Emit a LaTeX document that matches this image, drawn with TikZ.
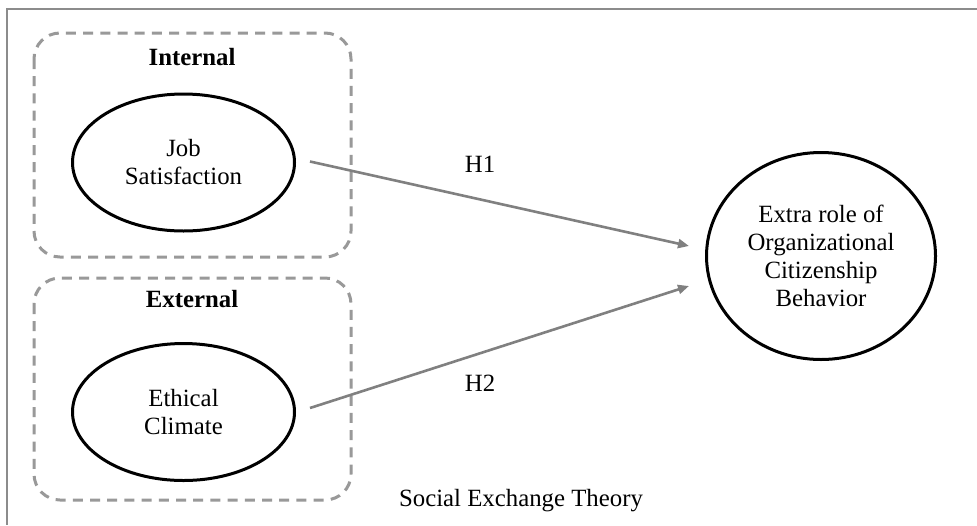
\documentclass[tikz,border=0pt]{standalone}
\usepackage{fontspec}
\setmainfont{Liberation Serif}
\usetikzlibrary{shapes.geometric,arrows.meta}
\begin{document}
\begin{tikzpicture}[x=0.5pt,y=-0.5pt,
  every node/.style={font=\fontsize{12.4pt}{14pt}\selectfont, align=center, inner sep=0pt},
  frameline/.style={draw=black!45, line width=1pt},
  groupbox/.style={draw=black!40, line width=1.5pt, dash pattern=on 5pt off 3.6pt, rounded corners=13pt},
  construct/.style={ellipse, draw=black, line width=1.5pt},
  hyp/.style={draw=black!50, line width=1.3pt, -{Triangle[length=5.5pt,width=4.5pt]}},
  grouptitle/.style={font=\fontsize{12.4pt}{14pt}\selectfont\bfseries}
]
\useasboundingbox (0,0) rectangle (977,525);
\fill[white] (0,0) rectangle (977,525);

% outer frame (top and left edges)
\draw[frameline] (977,9) -- (7,9) -- (7,525);

% group boxes
\draw[groupbox] (34,33) rectangle (351,257);
\draw[groupbox] (34,278) rectangle (351,500);
\node[grouptitle] (tin) at (192,57) {Internal};
\node[grouptitle] (tex) at (192,299) {External};

% constructs
\node[construct, minimum width=111pt, minimum height=68.5pt] (js) at (183.5,162.5) {Job\\Satisfaction};
\node[construct, minimum width=111pt, minimum height=68.5pt] (ec) at (183.5,412) {Ethical\\Climate};
\node[construct, minimum width=114.5pt, minimum height=103.5pt] (ocb) at (821,256) {Extra role of\\Organizational\\Citizenship\\Behavior};

% hypothesised paths
\coordinate (h1end) at (689,246);
\coordinate (h2end) at (689,286);
\draw[hyp] ([xshift=7pt,yshift=0.5pt]js.east) -- (h1end);
\draw[hyp] ([xshift=7pt,yshift=2pt]ec.east) -- (h2end);
\node (h1) at (480,164) {H1};
\node (h2) at (480,383) {H2};

% theory label
\node (set) at (521,501) {Social Exchange Theory};
\end{tikzpicture}
\end{document}
